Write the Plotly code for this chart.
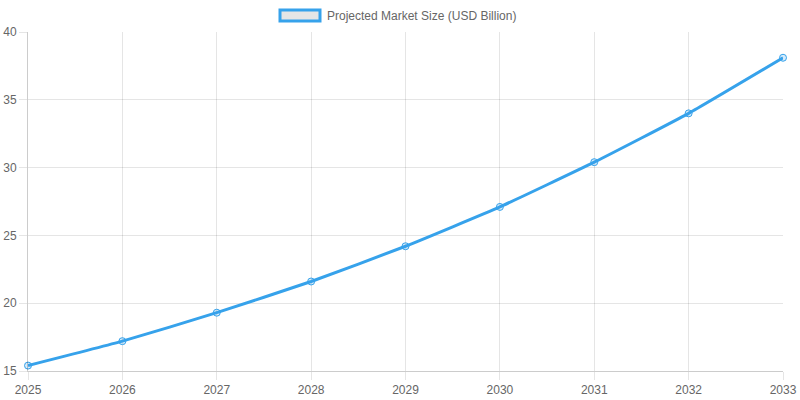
import plotly.graph_objects as go

years = [2025, 2026, 2027, 2028, 2029, 2030, 2031, 2032, 2033]
market_size = [15.4, 17.2, 19.3, 21.6, 24.2, 27.1, 30.4, 34.0, 38.1]
series_name = "Projected Market Size (USD Billion)"
y_ticks = [15, 20, 25, 30, 35, 40]

blue = "#36A2EB"
grid = "rgba(0,0,0,0.1)"
font = "Liberation Sans, Arial, sans-serif"

fig = go.Figure()
fig.add_trace(go.Scatter(
    x=years, y=market_size, name=series_name, mode="lines+markers",
    line=dict(color=blue, width=3, shape="spline", smoothing=0.4),
    marker=dict(symbol="circle", size=7, color="rgba(54,162,235,0.2)",
                line=dict(color=blue, width=1)),
    showlegend=False, cliponaxis=False,
))

# Legend drawn manually to match box-style legend
fig.add_shape(type="rect", xref="paper", yref="paper",
              x0=(280 - 28) / 755, x1=(320 - 28) / 755,
              y0=(371 - 10) / 339, y1=(371 - 21) / 339,
              line=dict(color=blue, width=3), fillcolor="#e6e6e6")
fig.add_annotation(text=series_name, xref="paper", yref="paper",
                   x=(325 - 28) / 755, y=(371 - 16) / 339,
                   xanchor="left", yanchor="middle", showarrow=False,
                   font=dict(family=font, size=12, color="#666"))

fig.update_layout(
    width=800, height=400,
    margin=dict(l=28, r=17, t=32, b=29, autoexpand=False),
    paper_bgcolor="white", plot_bgcolor="white",
    font=dict(family=font, size=12, color="#666"),
    xaxis=dict(range=[2025, 2033], tickmode="array", tickvals=years,
               ticktext=[str(y) for y in years], automargin=False,
               showgrid=True, gridcolor=grid, gridwidth=1,
               ticks="outside", ticklen=8, tickcolor=grid,
               showline=True, linecolor="rgba(0,0,0,0.2)", linewidth=1,
               zeroline=False),
    yaxis=dict(range=[15, 40], tickmode="array", tickvals=y_ticks,
               automargin=False,
               showgrid=True, gridcolor=grid, gridwidth=1,
               ticks="outside", ticklen=8, tickcolor=grid,
               showline=True, linecolor="rgba(0,0,0,0.2)", linewidth=1,
               zeroline=False),
)

fig.write_html("out.html")
